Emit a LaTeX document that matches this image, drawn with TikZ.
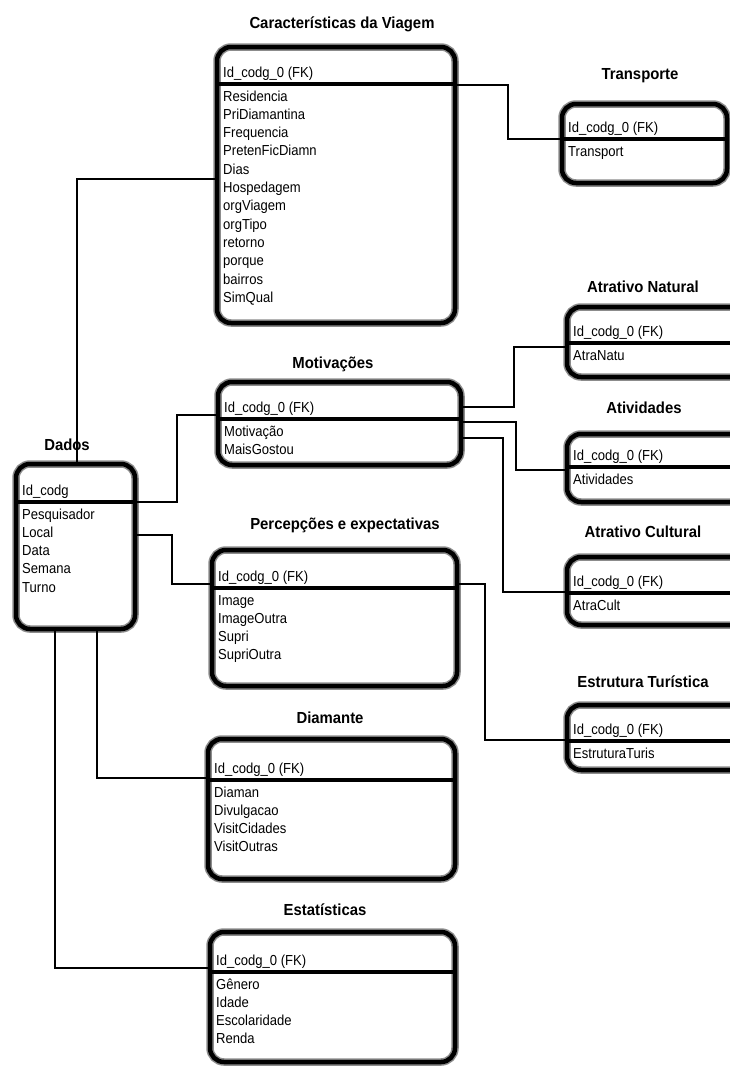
\documentclass[tikz,border=0pt]{standalone}
\usepackage{fontspec}
\newfontfamily\estreita[FakeStretch=0.93]{Liberation Sans}
\newfontfamily\estreitab[FakeStretch=0.9]{Liberation Sans}
\usetikzlibrary{calc}

\tikzset{
  tabela/.style={rectangle, draw=black, line width=4.5pt, rounded corners=14pt,
    inner sep=0pt, outer sep=0pt, preaction={draw=black!45, line width=7.5pt}},
  sepline/.style={line width=4pt},
  campo/.style={font=\estreitab\fontsize{14.5}{17}\selectfont, inner sep=0pt, anchor=base west},
  titulo/.style={font=\estreita\bfseries\fontsize{16}{19}\selectfont, inner sep=0pt, anchor=base},
  liga/.style={line width=1.3pt}
}

\newcommand{\sub}{\char95\relax}

% tabela: nome, esquerda, topo, largura, altura, linha da chave, chave, campos
\newcommand{\tabela}[8]{
  \node[tabela, minimum width=#4pt, minimum height=#5pt, anchor=north west] (#1) at (#2,#3) {};
  \draw[sepline] ($(#1.north west)+(2,#6)$) -- ($(#1.north east)+(-2,#6)$);
  \node[campo] (#1-pk) at ($(#1.north west)+(6,#6-7)$) {#7};
  \foreach \nome [count=\i] in {#8}
    \node[campo] (#1-\i) at ($(#1.north west)+(6,#6+17+18.3*\i-18.3)$) {\nome};
}

\begin{document}
\begin{tikzpicture}[x=1pt, y=-1pt]
  \fill[white] (0,0) rectangle (730,1068);
  \useasboundingbox (0,0) rectangle (730,1068);

  % tabelas
  \tabela{viagem}{217}{47}{238}{276}{37}{Id\sub codg\sub 0 (FK)}{Residencia,PriDiamantina,Frequencia,PretenFicDiamn,Dias,Hospedagem,orgViagem,orgTipo,retorno,porque,bairros,SimQual}
  \tabela{transp}{562}{104}{165}{79}{35}{Id\sub codg\sub 0 (FK)}{Transport}
  \tabela{natu}{567}{307}{180}{70}{36}{Id\sub codg\sub 0 (FK)}{AtraNatu}
  \tabela{motiv}{218}{382}{243}{83}{37}{Id\sub codg\sub 0 (FK)}{Motivação,MaisGostou}
  \tabela{ativ}{567}{434}{180}{68}{33}{Id\sub codg\sub 0 (FK)}{Atividades}
  \tabela{dados}{16}{464}{119}{165}{38}{Id\sub codg}{Pesquisador,Local,Data,Semana,Turno}
  \tabela{perc}{212}{550}{245}{136}{38}{Id\sub codg\sub 0 (FK)}{Image,ImageOutra,Supri,SupriOutra}
  \tabela{cult}{567}{557}{180}{68}{36}{Id\sub codg\sub 0 (FK)}{AtraCult}
  \tabela{estr}{567}{705}{180}{65}{36}{Id\sub codg\sub 0 (FK)}{EstruturaTuris}
  \tabela{diam}{208}{739}{247}{140}{41}{Id\sub codg\sub 0 (FK)}{Diaman,Divulgacao,VisitCidades,VisitOutras}
  \tabela{estat}{210}{932}{245}{130}{40}{Id\sub codg\sub 0 (FK)}{Gênero,Idade,Escolaridade,Renda}

  % titulos
  \node[titulo] (t-viagem) at (342,28) {Características da Viagem};
  \node[titulo] (t-transp) at (640,79) {Transporte};
  \node[titulo] (t-natu) at (643,292) {Atrativo Natural};
  \node[titulo] (t-motiv) at (333,368) {Motivações};
  \node[titulo] (t-ativ) at (644,413) {Atividades};
  \node[titulo] (t-dados) at (67,450) {Dados};
  \node[titulo] (t-perc) at (345,529) {Percepções e expectativas};
  \node[titulo] (t-cult) at (643,537) {Atrativo Cultural};
  \node[titulo] (t-estr) at (643,687) {Estrutura Turística};
  \node[titulo] (t-diam) at (330,723) {Diamante};
  \node[titulo] (t-estat) at (325,915) {Estatísticas};

  % ligacoes
  \draw[liga] ($(dados.north west)+(61,0)$) |- ($(viagem.north west)+(0,132)$);
  \draw[liga] ($(viagem.north east)+(0,38)$) -- ++(53,0) |- ($(transp.north west)+(0,35)$);
  \draw[liga] ($(dados.north east)+(0,38)$) -- ++(42,0) |- ($(motiv.north west)+(0,33)$);
  \draw[liga] ($(dados.north east)+(0,71)$) -- ++(37,0) |- ($(perc.north west)+(0,34)$);
  \draw[liga] ($(dados.south west)+(81,0)$) |- ($(diam.north west)+(0,39)$);
  \draw[liga] ($(dados.south west)+(39,0)$) |- ($(estat.north west)+(0,36)$);
  \draw[liga] ($(motiv.north east)+(0,25)$) -- ++(53,0) |- ($(natu.north west)+(0,40)$);
  \draw[liga] ($(motiv.north east)+(0,40)$) -- ++(55,0) |- ($(ativ.north west)+(0,36)$);
  \draw[liga] ($(motiv.north east)+(0,56)$) -- ++(42,0) |- ($(cult.north west)+(0,35)$);
  \draw[liga] ($(perc.north east)+(0,34)$) -- ++(28,0) |- ($(estr.north west)+(0,35)$);
\end{tikzpicture}
\end{document}
